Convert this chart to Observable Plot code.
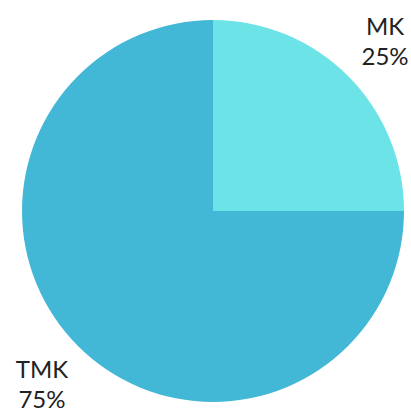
<!DOCTYPE html>
<html>
<head>
<meta charset="utf-8">
<script src="https://cdn.jsdelivr.net/npm/d3@7"></script>
<script src="https://cdn.jsdelivr.net/npm/@observablehq/plot@0.6"></script>
<style>
  html, body { margin: 0; padding: 0; background: #fff; }
</style>
</head>
<body>
<div id="chart"></div>
<script>
const categories = ["MK", "TMK"];
const values = [25, 75];
const colors = ["#6be3e7", "#43b7d6"];

const data = categories.map((c, i) => ({ category: c, value: values[i], color: colors[i] }));
const total = d3.sum(values);
const arcs = d3.pie().sort(null).value(d => d.value)(data);
const labelR = 1.27;
const labels = arcs.map(a => {
  const mid = (a.startAngle + a.endAngle) / 2;
  return {
    x: labelR * Math.sin(mid),
    y: labelR * Math.cos(mid),
    text: `${a.data.category}\n${Math.round(a.data.value / total * 100)}%`
  };
});

function pieMark(index, scales, values, dimensions) {
  const cx = scales.x(0), cy = scales.y(0);
  const r = scales.x(1) - scales.x(0);
  const g = d3.create("svg:g").attr("transform", `translate(${cx},${cy})`);
  const arcGen = d3.arc().innerRadius(0).outerRadius(r);
  g.selectAll("path").data(arcs).join("path")
    .attr("d", arcGen)
    .attr("fill", d => d.data.color);
  return g.node();
}

const chart = Plot.plot({
  width: 411,
  height: 412,
  marginLeft: 22,
  marginRight: 7,
  marginTop: 20,
  marginBottom: 10,
  x: { domain: [-1, 1], axis: null },
  y: { domain: [-1, 1], axis: null },
  style: { background: "#fff", overflow: "visible" },
  marks: [
    pieMark,
    Plot.text(labels, {
      x: "x", y: "y", text: "text",
      fontSize: 24, lineHeight: 1.25,
      fontFamily: "Lato, 'Open Sans', sans-serif",
      fill: "#222"
    })
  ]
});
document.getElementById("chart").appendChild(chart);
</script>
</body>
</html>
